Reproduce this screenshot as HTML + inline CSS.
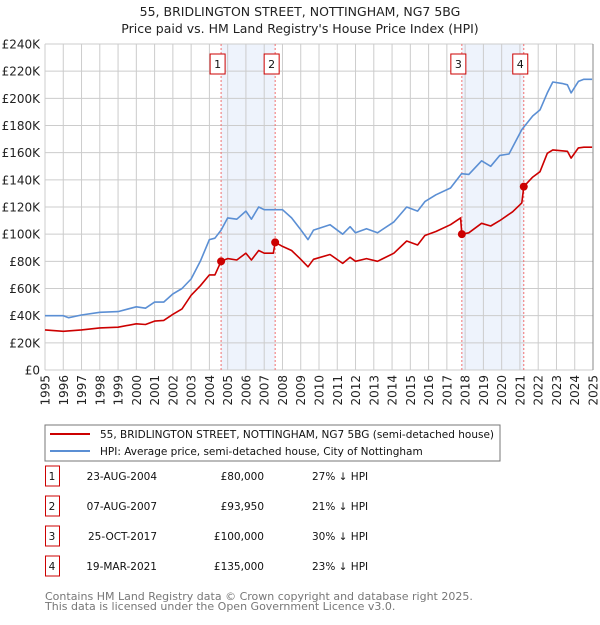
<!DOCTYPE html>
<html><head><meta charset="utf-8"><style>
body{margin:0;background:#fff;font-family:"Liberation Sans","DejaVu Sans",sans-serif}
svg text{font-family:"DejaVu Sans","Liberation Sans",sans-serif}
</style></head><body>
<svg id="c" width="600" height="620" xmlns="http://www.w3.org/2000/svg">
<text x="300" y="16" text-anchor="middle" font-size="12.5" fill="#222">55, BRIDLINGTON STREET, NOTTINGHAM, NG7 5BG</text>
<text x="300" y="33" text-anchor="middle" font-size="12.5" fill="#222">Price paid vs. HM Land Registry's House Price Index (HPI)</text>
<g id="grid"></g><g id="marks"></g>
<rect x="45" y="425" width="455" height="36" fill="#fff" stroke="#777"/>
<line x1="50" y1="434" x2="90" y2="434" stroke="#cc0000" stroke-width="2"/>
<text x="100" y="438" font-size="10.5" fill="#111">55, BRIDLINGTON STREET, NOTTINGHAM, NG7 5BG (semi-detached house)</text>
<line x1="50" y1="451" x2="90" y2="451" stroke="#5b8fd4" stroke-width="2"/>
<text x="100" y="455" font-size="10.5" fill="#111">HPI: Average price, semi-detached house, City of Nottingham</text>
<g id="table"></g>
<text x="45" y="600" font-size="11" fill="#777">Contains HM Land Registry data © Crown copyright and database right 2025.</text>
<text x="45" y="610" font-size="11" fill="#777">This data is licensed under the Open Government Licence v3.0.</text>
</svg>
<script>
const hpiYears=[1995,1996,1996.3,1997,1998,1999,2000,2000.5,2001,2001.5,2002,2002.5,2003,2003.5,2004,2004.3,2004.64,2005,2005.5,2006,2006.3,2006.7,2007,2007.5,2008,2008.5,2008.96,2009.4,2009.7,2010.6,2011.3,2011.7,2012,2012.6,2013.2,2014.1,2014.8,2015.4,2015.8,2016.4,2017.2,2017.8,2018.2,2018.9,2019.4,2019.9,2020.4,2021.1,2021.7,2022.1,2022.5,2022.8,2023.3,2023.6,2023.8,2024.2,2024.5,2024.95];
const hpiVals=[40,40,38.5,40.5,42.5,43,46.5,45.5,50,50,56,60,67,80,96,97,103,112,111,117,111,120,118,118,118,112,104,96,103,107,100,105.5,101,104,101,109,120,117,124,129,134,144.5,144,154,150,158,159,177,187,191.5,204,212,211,210,204,212.5,214,214];
const ppYears=[1995,1996,1997,1998,1999,2000,2000.5,2001,2001.5,2002,2002.5,2003,2003.5,2004,2004.3,2004.64,2005,2005.5,2006,2006.3,2006.7,2007,2007.5,2007.6,2008,2008.5,2008.96,2009.4,2009.7,2010.6,2011.3,2011.7,2012,2012.6,2013.2,2014.1,2014.8,2015.4,2015.8,2016.4,2017.2,2017.75,2017.82,2018.2,2018.9,2019.4,2019.9,2020.6,2021.1,2021.21,2021.7,2022.1,2022.5,2022.8,2023.6,2023.8,2024.2,2024.5,2024.95];
const ppVals=[29.5,28.5,29.5,31,31.5,34,33.5,36,36.5,41,45,55,62,70,70,80,82,81,86,81,88,86,86,94,91,88,82,76,81.5,85,78.5,83,80,82,80,86,95,92,99,102,107,112,100,101,108,106,110,116.5,123,135,142,146,159.5,162,161,156,163.5,164,164];
const saleYears=[2004.64,2007.6,2017.82,2021.21];
const saleVals=[80,93.95,100,135];
const saleDates=["23-AUG-2004","07-AUG-2007","25-OCT-2017","19-MAR-2021"];
const salePrices=["£80,000","£93,950","£100,000","£135,000"];
const saleHpi=["27% ↓ HPI","21% ↓ HPI","30% ↓ HPI","23% ↓ HPI"];
const yTicks=[0,20,40,60,80,100,120,140,160,180,200,220,240];
const xTicks=[1995,1996,1997,1998,1999,2000,2001,2002,2003,2004,2005,2006,2007,2008,2009,2010,2011,2012,2013,2014,2015,2016,2017,2018,2019,2020,2021,2022,2023,2024,2025];
const NS="http://www.w3.org/2000/svg";
const X0=45,X1=593,Y0=370,Y1=44;
const xs=y=>X0+(y-1995)/30*(X1-X0);
const ys=v=>Y0-v/240*(Y0-Y1);
function mk(p,t,a){const e=document.createElementNS(NS,t);for(const k in a)e.setAttribute(k,a[k]);p.appendChild(e);return e;}
const g=document.getElementById('grid'),m=document.getElementById('marks'),tb=document.getElementById('table');
for(let i=0;i<2;i++){
  const r=mk(g,'rect',{x:xs(saleYears[2*i]),y:Y1,width:xs(saleYears[2*i+1])-xs(saleYears[2*i]),height:Y0-Y1,fill:'#eef3fc'});
  
  
}
yTicks.forEach(v=>{
  const l=mk(g,'line',{x1:X0,x2:X1,y1:ys(v),y2:ys(v),stroke:'#ccc','stroke-width':1});
  
  
  const t=mk(g,'text',{x:40,y:ys(v)+4.5,'text-anchor':'end','font-size':12,fill:'#222'});
  t.textContent=v===0?'£0':'£'+v+'K';
  
  
});
xTicks.forEach(y=>{
  const l=mk(g,'line',{x1:xs(y),x2:xs(y),y1:Y1,y2:Y0,stroke:'#ccc','stroke-width':1});
  
  
  const t=mk(g,'text',{x:0,y:0,'text-anchor':'end','font-size':12,fill:'#222',transform:`translate(${xs(y)+4.5},${Y0+5}) rotate(-90)`});
  t.textContent=y;
  
  
});
const ax=mk(g,'line',{x1:X1,x2:X1,y1:Y1,y2:Y0,stroke:'#888','stroke-width':1});


saleYears.forEach((y,i)=>{
  const l=mk(m,'line',{x1:xs(y),x2:xs(y),y1:Y1,y2:Y0,stroke:'#f07070','stroke-width':1,'stroke-dasharray':'2,2'});
  
  
});
function path(xa,va,col,name){
  const d=xa.map((y,i)=>(i?'L':'M')+xs(y).toFixed(1)+','+ys(va[i]).toFixed(1)).join('');
  const p=mk(m,'path',{d:d,fill:'none',stroke:col,'stroke-width':1.6,'stroke-linejoin':'round'});
  
  
}
path(hpiYears,hpiVals,'#5b8fd4','hpi-line');
path(ppYears,ppVals,'#cc0000','price-paid-line');
saleYears.forEach((y,i)=>{
  const c=mk(m,'circle',{cx:xs(y),cy:ys(saleVals[i]),r:4,fill:'#cc0000'});
  
  
  const b=mk(m,'rect',{x:xs(y)-11,y:54,width:15,height:20,fill:'#fff',stroke:'#cc0000'});
  
  
  const t=mk(m,'text',{x:xs(y)-3.5,y:68,'text-anchor':'middle','font-size':11,fill:'#111'});
  t.textContent=i+1;
  
  
  const ry=475+i*30;
  const rb=mk(tb,'rect',{x:45.5,y:ry-9,width:14,height:20,fill:'#fff',stroke:'#cc0000'});
  
  
  const cells=[[52,'middle',String(i+1)],[157,'end',saleDates[i]],[264,'end',salePrices[i]],[312,'start',saleHpi[i]]];
  cells.forEach((c,j)=>{
    const tt=mk(tb,'text',{x:c[0],y:ry+5,'text-anchor':c[1],'font-size':10.5,fill:'#111'});
    tt.textContent=c[2];
    
    
  });
});
</script>
</body></html>
